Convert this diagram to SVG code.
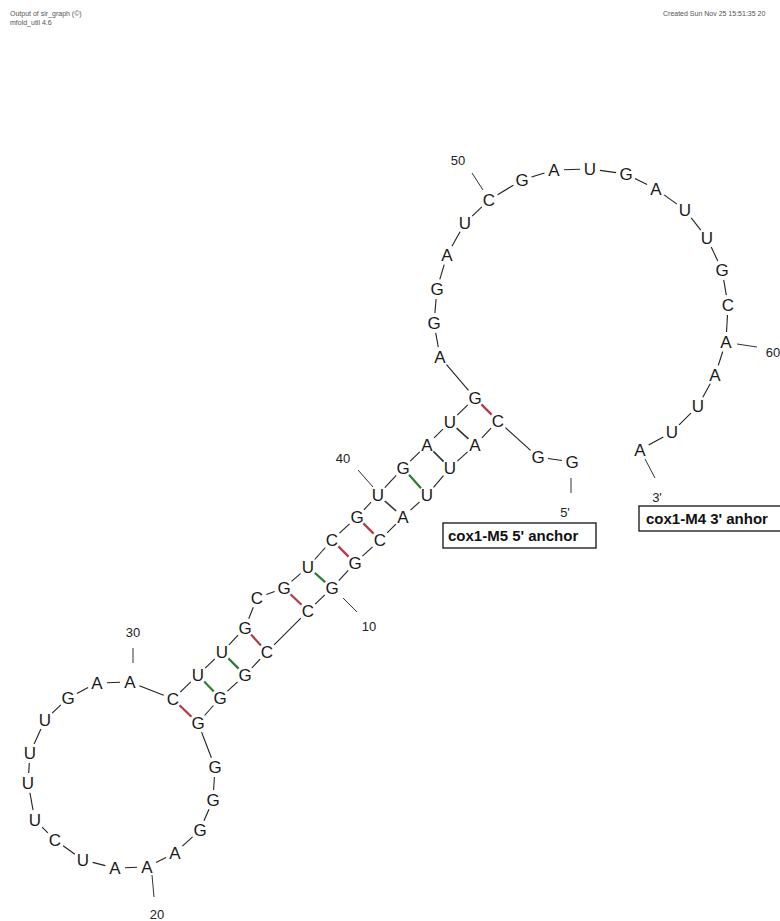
<svg xmlns="http://www.w3.org/2000/svg" width="780" height="921" viewBox="0 0 780 921">
<style>
.n text{font-family:"Liberation Sans",Arial,sans-serif;font-size:17px;fill:#1a1a1a;text-anchor:middle}
.bb line{stroke:#222;stroke-width:1.1}
.gc{stroke:#b03a48;stroke-width:2.2}
.gu{stroke:#2e7d32;stroke-width:2.2}
.au{stroke:#333;stroke-width:1.6}
.tk line{stroke:#333;stroke-width:1}
.num{font-family:"Liberation Sans",Arial,sans-serif;font-size:13px;fill:#222;text-anchor:middle}
.hdr{font-family:"Liberation Sans",Arial,sans-serif;font-size:7px;fill:#555}
.box rect{fill:#fff;stroke:#111;stroke-width:1.3}
.box text{font-family:"Liberation Sans",Arial,sans-serif;font-size:15px;font-weight:bold;fill:#111}
</style>
<rect width="780" height="921" fill="#fff"/>
<g id="header">
<text class="hdr" x="10" y="16">Output of sir_graph (©)</text>
<text class="hdr" x="10" y="25">mfold_util 4.6</text>
<text class="hdr" x="663" y="16">Created Sun Nov 25 15:51:35 20</text>
</g>
<g id="connectors">
<g class="bb">
<line x1="562.1" y1="460.5" x2="547.9" y2="458.5"/>
<line x1="530.6" y1="450.3" x2="505.4" y2="427.7"/>
<line x1="491.1" y1="428.2" x2="481.9" y2="437.8"/>
<line x1="467.6" y1="451.8" x2="457.4" y2="461.2"/>
<line x1="443.5" y1="475.6" x2="433.5" y2="487.4"/>
<line x1="419.6" y1="501.8" x2="410.4" y2="510.2"/>
<line x1="395.9" y1="524.1" x2="387.1" y2="532.9"/>
<line x1="372.6" y1="546.8" x2="362.4" y2="556.2"/>
<line x1="348.2" y1="570.4" x2="338.8" y2="580.6"/>
<line x1="324.8" y1="594.9" x2="315.2" y2="604.1"/>
<line x1="300.9" y1="618.1" x2="274.1" y2="644.9"/>
<line x1="260.1" y1="659.2" x2="251.9" y2="667.8"/>
<line x1="237.6" y1="681.8" x2="227.4" y2="691.2"/>
<line x1="213.4" y1="705.5" x2="204.6" y2="715.5"/>
<line x1="201.6" y1="732.3" x2="211.4" y2="757.7"/>
<line x1="214.4" y1="777" x2="213.6" y2="790"/>
<line x1="209" y1="809.2" x2="204" y2="820.8"/>
<line x1="192.6" y1="836.8" x2="182.4" y2="846.2"/>
<line x1="166.1" y1="857.5" x2="155.9" y2="862.5"/>
<line x1="137" y1="867.3" x2="125" y2="867.7"/>
<line x1="105.3" y1="865.6" x2="92.7" y2="862.4"/>
<line x1="74.9" y1="854.2" x2="63.1" y2="845.8"/>
<line x1="47.9" y1="832.9" x2="42.1" y2="827.1"/>
<line x1="33.1" y1="810.2" x2="29.9" y2="792.8"/>
<line x1="28.7" y1="773" x2="29.3" y2="763"/>
<line x1="34.1" y1="743.9" x2="40.9" y2="729.1"/>
<line x1="52.2" y1="713.1" x2="60.8" y2="704.9"/>
<line x1="76.9" y1="693.4" x2="88.1" y2="687.6"/>
<line x1="107" y1="682.7" x2="120" y2="682.3"/>
<line x1="139.3" y1="685.7" x2="163.7" y2="695.3"/>
<line x1="180.2" y1="692.1" x2="190.8" y2="681.9"/>
<line x1="205.2" y1="668.1" x2="214.8" y2="658.9"/>
<line x1="228.9" y1="644.8" x2="238.1" y2="635.2"/>
<line x1="248.7" y1="618.7" x2="253.3" y2="607.3"/>
<line x1="266.4" y1="594.5" x2="274.6" y2="591.5"/>
<line x1="291.5" y1="581.4" x2="300.5" y2="573.6"/>
<line x1="314.7" y1="559.5" x2="325.3" y2="547.5"/>
<line x1="339.4" y1="533.2" x2="349.6" y2="523.8"/>
<line x1="363.9" y1="509.8" x2="371.1" y2="502.2"/>
<line x1="384.8" y1="487.7" x2="396.2" y2="475.3"/>
<line x1="410.2" y1="461.1" x2="419.8" y2="451.9"/>
<line x1="434.1" y1="437.9" x2="442.9" y2="429.1"/>
<line x1="457.2" y1="415.1" x2="467.8" y2="404.9"/>
<line x1="468.5" y1="390.4" x2="446.5" y2="364.6"/>
<line x1="438.3" y1="347.2" x2="435.7" y2="332.8"/>
<line x1="434.9" y1="313" x2="436.1" y2="299"/>
<line x1="439.8" y1="279.4" x2="444.2" y2="264.6"/>
<line x1="451.9" y1="246.3" x2="460.1" y2="231.7"/>
<line x1="472.2" y1="216.1" x2="481.8" y2="206.9"/>
<line x1="497.6" y1="194.8" x2="513.4" y2="185.2"/>
<line x1="531.5" y1="177" x2="544.5" y2="173"/>
<line x1="564" y1="169.7" x2="580" y2="169.3"/>
<line x1="599.9" y1="170.4" x2="616.1" y2="172.6"/>
<line x1="634.9" y1="178.5" x2="647.1" y2="184.5"/>
<line x1="664.1" y1="194.9" x2="676.9" y2="204.1"/>
<line x1="691.2" y1="217.9" x2="700.8" y2="230.1"/>
<line x1="711.2" y1="247.1" x2="717.8" y2="260.9"/>
<line x1="723.7" y1="279.9" x2="726.3" y2="295.1"/>
<line x1="727.5" y1="315" x2="726.5" y2="332"/>
<line x1="722.8" y1="351.5" x2="718.2" y2="365.5"/>
<line x1="710.2" y1="383.8" x2="702.8" y2="397.2"/>
<line x1="690.9" y1="413.1" x2="679.1" y2="424.9"/>
<line x1="663.3" y1="436.9" x2="648.7" y2="445.1"/>
</g>
<g id="pairs">
<line class="gc" x1="481.4" y1="404.4" x2="491.6" y2="414.6"/>
<line class="au" x1="456.6" y1="428.1" x2="468.4" y2="438.9"/>
<line class="au" x1="433.4" y1="451.4" x2="443.6" y2="461.6"/>
<line class="gu" x1="409" y1="474.7" x2="421" y2="488.3"/>
<line class="au" x1="384.8" y1="501" x2="396.2" y2="511"/>
<line class="gc" x1="363.4" y1="523.4" x2="373.6" y2="533.6"/>
<line class="gc" x1="338.4" y1="546.4" x2="348.6" y2="556.6"/>
<line class="gu" x1="314.8" y1="572.9" x2="325.2" y2="582.1"/>
<line class="gc" x1="290.5" y1="594.2" x2="301.5" y2="604.8"/>
<line class="gc" x1="251.1" y1="634.6" x2="260.9" y2="645.4"/>
<line class="gu" x1="228.4" y1="658.4" x2="238.6" y2="668.6"/>
<line class="gu" x1="204.2" y1="681.5" x2="213.8" y2="691.5"/>
<line class="gc" x1="179.5" y1="705.2" x2="191.5" y2="716.8"/>
</g>
<g class="tk">
<line x1="571" y1="478" x2="571" y2="493"/>
<line x1="645" y1="459" x2="655" y2="478"/>
<line x1="343" y1="598" x2="357" y2="612"/>
<line x1="152" y1="875" x2="154" y2="897"/>
<line x1="133" y1="648" x2="133" y2="663"/>
<line x1="358" y1="470" x2="373" y2="487"/>
<line x1="472" y1="173" x2="483" y2="190"/>
<line x1="737" y1="344" x2="757" y2="347"/>
</g>
</g>
<g id="labels">
<text class="num" x="565" y="517">5'</text>
<text class="num" x="657" y="502">3'</text>
<text class="num" x="369" y="631">10</text>
<text class="num" x="157" y="919">20</text>
<text class="num" x="133" y="637">30</text>
<text class="num" x="343" y="463">40</text>
<text class="num" x="458" y="165">50</text>
<text class="num" x="773" y="357">60</text>
</g>
<g class="n">
<g id="n1"><text x="572" y="468">G</text></g>
<g id="n2"><text x="538" y="463">G</text></g>
<g id="n3"><text x="498" y="427">C</text></g>
<g id="n4"><text x="475" y="451">A</text></g>
<g id="n5"><text x="450" y="474">U</text></g>
<g id="n6"><text x="427" y="501">U</text></g>
<g id="n7"><text x="403" y="523">A</text></g>
<g id="n8"><text x="380" y="546">C</text></g>
<g id="n9"><text x="355" y="569">G</text></g>
<g id="n10"><text x="332" y="594">G</text></g>
<g id="n11"><text x="308" y="617">C</text></g>
<g id="n12"><text x="267" y="658">C</text></g>
<g id="n13"><text x="245" y="681">G</text></g>
<g id="n14"><text x="220" y="704">G</text></g>
<g id="n15"><text x="198" y="729">G</text></g>
<g id="n16"><text x="215" y="773">G</text></g>
<g id="n17"><text x="213" y="806">G</text></g>
<g id="n18"><text x="200" y="836">G</text></g>
<g id="n19"><text x="175" y="859">A</text></g>
<g id="n20"><text x="147" y="873">A</text></g>
<g id="n21"><text x="115" y="874">A</text></g>
<g id="n22"><text x="83" y="866">U</text></g>
<g id="n23"><text x="55" y="846">C</text></g>
<g id="n24"><text x="35" y="826">U</text></g>
<g id="n25"><text x="28" y="789">U</text></g>
<g id="n26"><text x="30" y="759">U</text></g>
<g id="n27"><text x="45" y="726">U</text></g>
<g id="n28"><text x="68" y="704">G</text></g>
<g id="n29"><text x="97" y="689">A</text></g>
<g id="n30"><text x="130" y="688">A</text></g>
<g id="n31"><text x="173" y="705">C</text></g>
<g id="n32"><text x="198" y="681">U</text></g>
<g id="n33"><text x="222" y="658">U</text></g>
<g id="n34"><text x="245" y="634">G</text></g>
<g id="n35"><text x="257" y="604">C</text></g>
<g id="n36"><text x="284" y="594">G</text></g>
<g id="n37"><text x="308" y="573">U</text></g>
<g id="n38"><text x="332" y="546">C</text></g>
<g id="n39"><text x="357" y="523">G</text></g>
<g id="n40"><text x="378" y="501">U</text></g>
<g id="n41"><text x="403" y="474">G</text></g>
<g id="n42"><text x="427" y="451">A</text></g>
<g id="n43"><text x="450" y="428">U</text></g>
<g id="n44"><text x="475" y="404">G</text></g>
<g id="n45"><text x="440" y="363">A</text></g>
<g id="n46"><text x="434" y="329">G</text></g>
<g id="n47"><text x="437" y="295">G</text></g>
<g id="n48"><text x="447" y="261">A</text></g>
<g id="n49"><text x="465" y="229">U</text></g>
<g id="n50"><text x="489" y="206">C</text></g>
<g id="n51"><text x="522" y="186">G</text></g>
<g id="n52"><text x="554" y="176">A</text></g>
<g id="n53"><text x="590" y="175">U</text></g>
<g id="n54"><text x="626" y="180">G</text></g>
<g id="n55"><text x="656" y="195">A</text></g>
<g id="n56"><text x="685" y="216">U</text></g>
<g id="n57"><text x="707" y="244">U</text></g>
<g id="n58"><text x="722" y="276">G</text></g>
<g id="n59"><text x="728" y="311">C</text></g>
<g id="n60"><text x="726" y="348">A</text></g>
<g id="n61"><text x="715" y="381">A</text></g>
<g id="n62"><text x="698" y="412">U</text></g>
<g id="n63"><text x="672" y="438">U</text></g>
<g id="n64"><text x="640" y="456">A</text></g>
</g>
<g id="anchor5" class="box">
<rect x="443" y="523" width="153" height="25"/>
<text x="448" y="541">cox1-M5 5' anchor</text>
</g>
<g id="anchor3" class="box">
<rect x="639" y="506" width="150" height="25"/>
<text x="646" y="524">cox1-M4 3' anhor</text>
</g>
</svg>
